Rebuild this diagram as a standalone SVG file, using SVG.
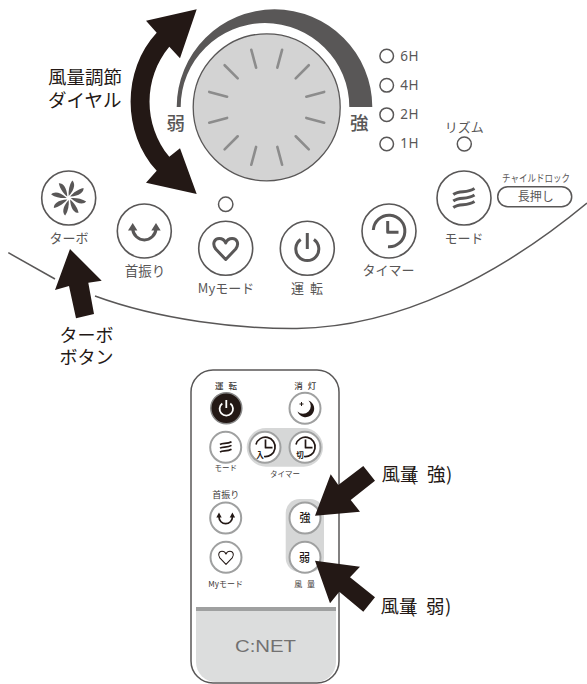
<svg xmlns="http://www.w3.org/2000/svg" xmlns:xlink="http://www.w3.org/1999/xlink" width="587" height="684" viewBox="0 0 587 684">
<style>
text{font-family:"Noto Sans CJK JP","Noto Sans",sans-serif;fill:#595757}
.lab{font-size:13px}
.big{font-size:18.5px;fill:#231815}
.led{fill:#fff;stroke:#595757;stroke-width:1.5}
.btn{fill:#fff;stroke:#595757;stroke-width:1.6}
.ic{fill:none;stroke:#595757;stroke-width:3;stroke-linejoin:round}
.icf{fill:#595757}
.rb{fill:#fff;stroke:#9fa0a0;stroke-width:2}
.ric{fill:none;stroke:#231815;stroke-width:1.7;stroke-linejoin:round}
.rl{font-size:8px;fill:#3e3a39}
.h{font-size:13.5px;letter-spacing:.6px;font-family:"Noto Sans",sans-serif}
.tick{stroke:#8c8c8c;stroke-width:2.6;stroke-linecap:round}
.arrow{fill:#231815}
</style>
<defs>
<path id="blade" d="M0 -2C-0.5 -7 0.5 -13 3.5 -17.5C6.5 -15 6.5 -9 0 -2Z" fill="#595757"/>
<line id="t" class="tick" x1="0" y1="-41" x2="0" y2="-59.5"/>
</defs>

<path d="M8.3 252.7L55 279" fill="none" stroke="#595757" stroke-width="1.5"/>
<path d="M95 296C160 320 240 329 297 328.5C400 327 500 275 587 203" fill="none" stroke="#595757" stroke-width="1.5"/>

<g id="dial">
<path d="M176.7 107A97.8 97.7 0 0 1 372.3 107H349.3A84.3 84 0 0 0 180.7 107Z" fill="#595757"/>
<circle cx="266.7" cy="107.3" r="73.5" fill="#d3d3d3" stroke="#595757" stroke-width="1.3"/>
<g transform="translate(266.7 107.3)">
<use xlink:href="#t" href="#t" transform="rotate(15)"/><use xlink:href="#t" href="#t" transform="rotate(45)"/><use xlink:href="#t" href="#t" transform="rotate(75)"/><use xlink:href="#t" href="#t" transform="rotate(105)"/><use xlink:href="#t" href="#t" transform="rotate(135)"/><use xlink:href="#t" href="#t" transform="rotate(165)"/><use xlink:href="#t" href="#t" transform="rotate(195)"/><use xlink:href="#t" href="#t" transform="rotate(225)"/><use xlink:href="#t" href="#t" transform="rotate(255)"/><use xlink:href="#t" href="#t" transform="rotate(285)"/><use xlink:href="#t" href="#t" transform="rotate(315)"/><use xlink:href="#t" href="#t" transform="rotate(345)"/>
</g>
<text x="166.5" y="130" font-size="18.5" font-weight="500">弱</text>
<text x="350" y="130" font-size="18.5" font-weight="500">強</text>
</g>

<g id="timer-leds">
<circle class="led" cx="386.7" cy="56" r="6.8"/><text class="h" x="400.3" y="60.5">6H</text>
<circle class="led" cx="386.7" cy="85.3" r="6.8"/><text class="h" x="400.3" y="90">4H</text>
<circle class="led" cx="386.7" cy="114.7" r="6.8"/><text class="h" x="400.3" y="119">2H</text>
<circle class="led" cx="386.7" cy="144" r="6.8"/><text class="h" x="400.3" y="148">1H</text>
</g>

<g id="rhythm">
<text class="lab" x="464.3" y="131.5" text-anchor="middle">リズム</text>
<circle class="led" cx="464.3" cy="144" r="7"/>
</g>

<g id="turbo">
<circle class="btn" cx="68.7" cy="198" r="27"/>
<g transform="translate(68.7 198)">
<use xlink:href="#blade" href="#blade"/><use xlink:href="#blade" href="#blade" transform="rotate(45)"/><use xlink:href="#blade" href="#blade" transform="rotate(90)"/><use xlink:href="#blade" href="#blade" transform="rotate(135)"/><use xlink:href="#blade" href="#blade" transform="rotate(180)"/><use xlink:href="#blade" href="#blade" transform="rotate(225)"/><use xlink:href="#blade" href="#blade" transform="rotate(270)"/><use xlink:href="#blade" href="#blade" transform="rotate(315)"/>
</g>
<text class="lab" x="69" y="242.7" text-anchor="middle">ターボ</text>
</g>

<g id="swing">
<circle class="btn" cx="144.3" cy="231" r="27"/>
<path class="ic" d="M132.7 229A11.7 12 0 0 0 156 229"/>
<path class="icf" d="M132.7 223L128 230.5H137.4ZM156 223L151.3 230.5H160.7Z"/>
<text class="lab" x="145" y="276" text-anchor="middle" style="font-size:13.5px">首振り</text>
</g>

<g id="mymode">
<circle class="led" cx="225.7" cy="204.3" r="7.2"/>
<circle class="btn" cx="225.7" cy="248.3" r="27"/>
<path class="ic" transform="translate(225.7 248)" d="M0 11.5L-10 1C-14 -4.5 -11 -9.5 -6.5 -9.5C-3.5 -9.5 -1 -7.5 0 -5C1 -7.5 3.5 -9.5 6.5 -9.5C11 -9.5 14 -4.5 10 1Z"/>
<text class="lab" x="226" y="292.7" text-anchor="middle">Myモード</text>
</g>

<g id="power">
<circle class="btn" cx="307.3" cy="248.3" r="27"/>
<path class="ic" d="M300.7 239.6A11.5 11.5 0 1 0 313.9 239.6M307.3 233V249"/>
<text class="lab" x="307" y="293.3" text-anchor="middle" word-spacing="3">運 転</text>
</g>

<g id="timer">
<circle class="btn" cx="389" cy="231" r="27"/>
<path class="ic" d="M373.3 230A15.8 15.8 0 1 1 388 246.8M387.7 221V232.3H398.5"/>
<text class="lab" x="388.5" y="275" text-anchor="middle">タイマー</text>
</g>

<g id="mode">
<circle class="btn" cx="464" cy="198" r="27"/>
<g fill="none" stroke="#595757" stroke-width="3">
<path d="M453.3 194.5C460 189.5 466 194 474.5 188.5"/>
<path d="M453.3 201C460 196 466 200.5 474.5 195"/>
<path d="M453.3 207.5C460 202.5 466 207 474.5 201.5"/>
</g>
<text class="lab" x="464" y="242.7" text-anchor="middle">モード</text>
</g>

<g id="child-lock">
<text x="536" y="181.7" text-anchor="middle" font-size="10" textLength="68" lengthAdjust="spacingAndGlyphs">チャイルドロック</text>
<rect x="497.7" y="186.7" width="74" height="20" rx="10" fill="#fff" stroke="#595757" stroke-width="1.5"/>
<text x="535.7" y="201" text-anchor="middle" font-size="12">長押し</text>
</g>

<g id="remote">
<rect x="191" y="370" width="148" height="313" rx="22" fill="#fff" stroke="#595757" stroke-width="1.5"/>
<path d="M196 611H336V662A20 20 0 0 1 316 682H216A20 20 0 0 1 196 662Z" fill="#dcdddd"/>
<rect x="196" y="607" width="140" height="4" fill="#9fa0a0"/>
<text x="235" y="651.7" font-size="17.3" textLength="61" lengthAdjust="spacingAndGlyphs" style="font-family:'Liberation Sans',sans-serif;fill:#727171">C:NET</text>
<rect x="246.7" y="428" width="76.3" height="38.7" rx="19.3" fill="#d6d7d7"/>
<rect x="285.7" y="499" width="38.3" height="73" rx="14" fill="#d6d7d7"/>
</g>

<g id="r-power">
<circle cx="226.3" cy="408.3" r="15.5" fill="#231815" stroke="#888" stroke-width="1.5"/>
<path d="M222.3 403.5A6.7 6.7 0 1 0 230.3 403.5M226.3 400V408" fill="none" stroke="#fff" stroke-width="1.8"/>
<text class="rl" x="226" y="389" text-anchor="middle" style="font-size:8.5px" font-weight="500" word-spacing="3">運 転</text>
</g>
<g id="r-light">
<circle class="rb" cx="305" cy="408.3" r="15.5"/>
<path d="M308.5 400.5A8.6 8.6 0 1 1 297.5 411.5A7.6 7.6 0 0 0 308.5 400.5Z" fill="#231815"/>
<path d="M301.5 402V406M299.5 404H303.5" stroke="#231815" stroke-width="1"/>
<text class="rl" x="305.3" y="389" text-anchor="middle" style="font-size:8.5px" font-weight="500" word-spacing="3">消 灯</text>
</g>
<g id="r-mode">
<circle class="rb" cx="225.7" cy="447.3" r="15.5"/>
<g fill="none" stroke="#231815" stroke-width="1.6">
<path d="M220 444.5C223 442.5 227 444.5 231.5 441.7"/>
<path d="M220 448.2C223 446.2 227 448.2 231.5 445.4"/>
<path d="M220 452C223 450 227 452 231.5 449.2"/>
</g>
<text class="rl" x="225.7" y="471" text-anchor="middle" style="font-size:7.5px">モード</text>
</g>
<g id="r-timer-on">
<circle class="rb" cx="265" cy="447.3" r="15.5"/>
<path class="ric" d="M256 444.5A9.7 9.7 0 1 1 264 456.5M265.5 439.5V447.7H272.5"/>
<text x="260" y="458" text-anchor="middle" font-size="7.5" font-weight="700" style="fill:#231815">入</text>
</g>
<g id="r-timer-off">
<circle class="rb" cx="305" cy="447.3" r="15.5"/>
<path class="ric" d="M296 444.5A9.7 9.7 0 1 1 304 456.5M305.5 439.5V447.7H312.5"/>
<text x="300" y="458" text-anchor="middle" font-size="7.5" font-weight="700" style="fill:#231815">切</text>
<text class="rl" x="285" y="476.7" text-anchor="middle" style="font-size:7.5px">タイマー</text>
</g>
<g id="r-swing">
<circle class="rb" cx="225.7" cy="518" r="15.5"/>
<path class="ric" d="M219 517A6.7 6.7 0 0 0 232.4 517"/>
<path d="M219 512.5L216.3 517.5H221.7ZM232.4 512.5L229.7 517.5H235.1Z" fill="#231815"/>
<text class="rl" x="225.7" y="498.3" text-anchor="middle" style="font-size:9px">首振り</text>
</g>
<g id="r-mymode">
<circle class="rb" cx="226" cy="557.3" r="15.5"/>
<path class="ric" transform="translate(226 557.2) scale(.62)" d="M0 11.5L-10 1C-14 -4.5 -11 -9.5 -6.5 -9.5C-3.5 -9.5 -1 -7.5 0 -5C1 -7.5 3.5 -9.5 6.5 -9.5C11 -9.5 14 -4.5 10 1Z"/>
<text class="rl" x="225.7" y="586.7" text-anchor="middle">Myモード</text>
</g>
<g id="r-strong">
<circle class="rb" cx="305" cy="518" r="15.5"/>
<text x="305" y="522" text-anchor="middle" font-size="11" font-weight="500" style="fill:#231815">強</text>
</g>
<g id="r-weak">
<circle class="rb" cx="305" cy="557.3" r="15.5"/>
<text x="304.5" y="561.5" text-anchor="middle" font-size="11" font-weight="500" style="fill:#231815">弱</text>
<text class="rl" x="304.7" y="586.7" text-anchor="middle" word-spacing="3">風 量</text>
</g>

<g id="connectors">
<path class="arrow" d="M196.7 9.3L146 20.7L156.7 32.7C122 70 122 133 156.7 170.7L146 182.7L196.7 194L180 148.3L169.3 156.7C143 125 143 78 169.3 46.7L180 58.3Z"/>
<path class="arrow" d="M70 249L55 290L69 286L76 318.3L94 314L88.3 282.7L101.7 280.7Z"/>
<path class="arrow" d="M315 515.7L330.7 474.3L338.3 485L363.3 466L375 480.7L350.7 500L360 511.7Z"/>
<path class="arrow" d="M315 560.7L360 566.7L350 577.3L375 597.3L363.3 611.7L339.3 591.7L330 603.3Z"/>
</g>

<g id="labels">
<text class="big"><tspan x="48" y="83.5">風量調節</tspan><tspan x="48" y="106.5">ダイヤル</tspan></text>
<text class="big" style="font-size:18px"><tspan x="59.5" y="341.7">ターボ</tspan><tspan x="59.5" y="364">ボタン</tspan></text>
<text class="big" y="480.7" x="381.5 400 410 427 446">風量(強)</text>
<text class="big" y="613" x="380.5 399 409 426 445">風量(弱)</text>
</g>
</svg>
